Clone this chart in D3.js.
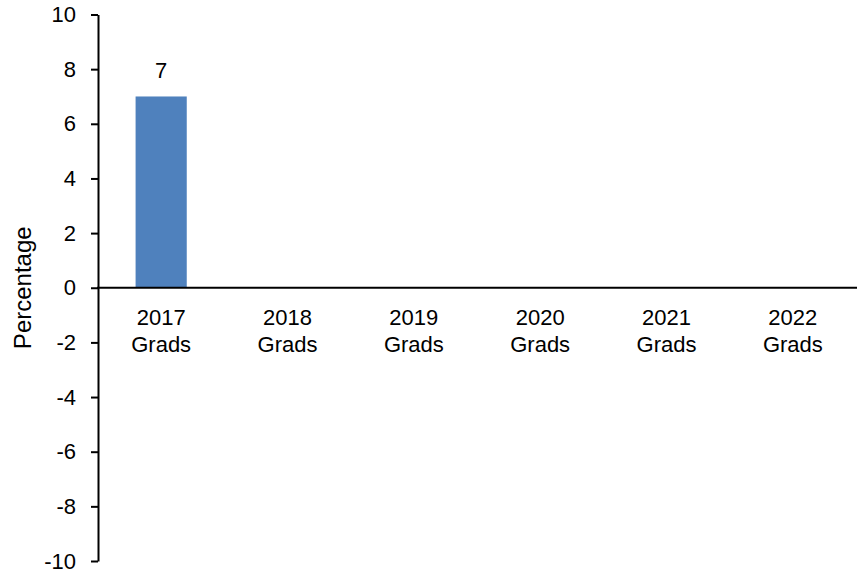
<!DOCTYPE html>
<html>
<head>
<meta charset="utf-8">
<script src="https://cdn.jsdelivr.net/npm/d3@7"></script>
<style>
  html, body { margin: 0; padding: 0; background: #fff; }
  svg { display: block; }
  text { font-family: "Liberation Sans", Arial, sans-serif; fill: #000; }
</style>
</head>
<body>
<svg id="chart" width="857" height="571"></svg>
<script>
const categories = ["2017 Grads", "2018 Grads", "2019 Grads", "2020 Grads", "2021 Grads", "2022 Grads"];
const values = [7, null, null, null, null, null];
const yTicks = [10, 8, 6, 4, 2, 0, -2, -4, -6, -8, -10];
const yTitle = "Percentage";

const svg = d3.select("#chart");
const x = d3.scaleBand().domain(categories).range([98, 856]).paddingInner(0).paddingOuter(0);
const y = d3.scaleLinear().domain([-10, 10]).range([561, 14.5]);

const barW = x.bandwidth() * 0.405;

// bars
svg.append("g").selectAll("rect")
  .data(categories.map((c, i) => ({c, v: values[i]})).filter(d => d.v != null))
  .join("rect")
  .attr("x", d => x(d.c) + (x.bandwidth() - barW) / 2)
  .attr("width", barW)
  .attr("y", d => y(Math.max(0, d.v)))
  .attr("height", d => Math.abs(y(d.v) - y(0)))
  .attr("fill", "#4f81bd");

// data labels
svg.append("g").selectAll("text")
  .data(categories.map((c, i) => ({c, v: values[i]})).filter(d => d.v != null))
  .join("text")
  .attr("x", d => x(d.c) + x.bandwidth() / 2)
  .attr("y", d => y(d.v) - 18)
  .attr("text-anchor", "middle")
  .style("font-size", "22px")
  .text(d => d.v);

// y axis
const yAxis = svg.append("g")
  .attr("transform", "translate(98,0)")
  .call(d3.axisLeft(y).tickValues(yTicks).tickSize(7).tickSizeOuter(0).tickPadding(15).tickFormat(d => String(d)));
yAxis.select(".domain").attr("stroke", "#000").attr("stroke-width", 2);
yAxis.selectAll(".tick line").attr("stroke", "#000").attr("stroke-width", 2);
yAxis.selectAll(".tick text").style("font-size", "22px").attr("fill", "#000").style("font-family", "'Liberation Sans', Arial, sans-serif");

// x axis line at zero
const xAxis = svg.append("g")
  .attr("transform", `translate(0,${y(0)})`)
  .call(d3.axisBottom(x).tickSize(0).tickSizeOuter(0).tickFormat(""));
xAxis.select(".domain").attr("stroke", "#000").attr("stroke-width", 2).attr("d", `M97,0H857`);

// category labels (two lines)
const lab = svg.append("g").selectAll("text")
  .data(categories)
  .join("text")
  .attr("text-anchor", "middle")
  .style("font-size", "22px")
  .attr("transform", d => `translate(${x(d) + x.bandwidth() / 2},${y(0) + 37})`);
lab.each(function(d) {
  const parts = d.split(" ");
  const t = d3.select(this);
  parts.forEach((p, i) => {
    t.append("tspan").attr("x", 0).attr("y", i * 27).text(p);
  });
});

// y title
svg.append("text")
  .attr("transform", `translate(31,${y(0)}) rotate(-90)`)
  .attr("text-anchor", "middle")
  .style("font-size", "24px")
  .text(yTitle);
</script>
</body>
</html>
